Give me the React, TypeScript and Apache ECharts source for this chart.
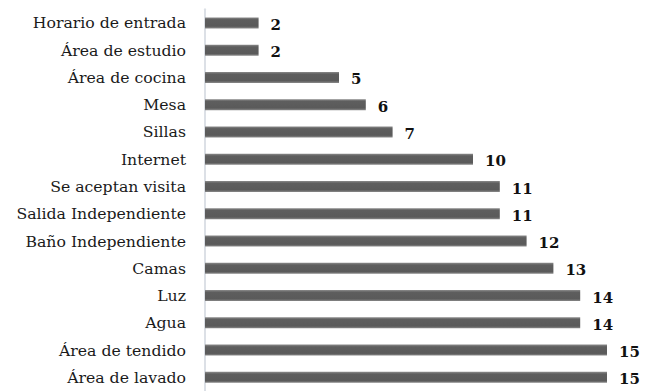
import React, { useEffect, useRef } from "react";
import * as echarts from "echarts";

const categories = [
  "Horario de entrada",
  "Área de estudio",
  "Área de cocina",
  "Mesa",
  "Sillas",
  "Internet",
  "Se aceptan visita",
  "Salida Independiente",
  "Baño Independiente",
  "Camas",
  "Luz",
  "Agua",
  "Área de tendido",
  "Área de lavado",
];

const values = [2, 2, 5, 6, 7, 10, 11, 11, 12, 13, 14, 14, 15, 15];

const SERIF = "DejaVu Serif";

export default function App() {
  const ref = useRef<HTMLDivElement>(null);

  useEffect(() => {
    document.body.style.margin = "0";
    const chart = echarts.init(ref.current!, null, { renderer: "svg" });
    chart.setOption({
      animation: false,
      backgroundColor: "#ffffff",
      textStyle: { fontFamily: SERIF },
      grid: { left: 205, top: 9.3, width: 402, height: 384.4, containLabel: false },
      xAxis: {
        type: "value",
        min: 0,
        max: 15,
        show: false,
      },
      yAxis: {
        type: "category",
        data: categories,
        inverse: true,
        axisLine: { show: true, lineStyle: { color: "#dce0e6", width: 2 } },
        axisTick: { show: false },
        splitLine: { show: false },
        axisLabel: {
          margin: 19,
          fontFamily: SERIF,
          fontSize: 15.7,
          color: "#1a1a1a",
        },
      },
      series: [
        {
          type: "bar",
          data: values,
          barWidth: 11,
          itemStyle: {
            color: new echarts.graphic.LinearGradient(0, 0, 0, 1, [
              { offset: 0, color: "#8a8a8a" },
              { offset: 0.2, color: "#5e5e5e" },
              { offset: 0.8, color: "#5a5a5a" },
              { offset: 1, color: "#8a8a8a" },
            ]),
          },
          label: {
            show: true,
            position: "right",
            distance: 12,
            offset: [0, 2],
            fontFamily: SERIF,
            fontWeight: "bold",
            fontSize: 15,
            color: "#111111",
          },
        },
      ],
    });
    return () => chart.dispose();
  }, []);

  return (
    <div
      ref={ref}
      style={{ position: "absolute", left: 0, top: 0, width: 651, height: 391 }}
    />
  );
}
